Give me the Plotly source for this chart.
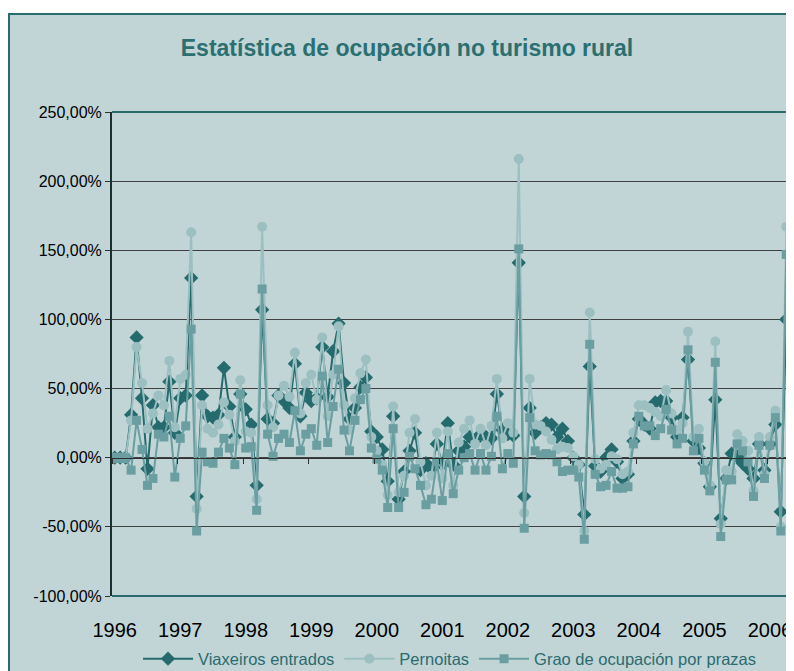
import plotly.graph_objects as go

# ---- data (monthly year-on-year change, %) ----
years = ["1996", "1997", "1998", "1999", "2000", "2001", "2002", "2003", "2004", "2005", "2006"]
months = [f"{y}-{m:02d}" for y in range(1996, 2007) for m in range(1, 13)][:124]

viaxeiros = [0, 0, 0, 31, 87, 43, -8, 38, 22, 22, 55, 18,
             43, 45, 130, -28, 45, 30, 29, 31, 65, 37, 15, 46,
             35, 24, -20, 107, 28, 25, 45, 41, 36, 68, 30, 47,
             41, 43, 80, 44, 77, 97, 54, 28, 36, 51, 58, 19,
             15, 6, -17, 30, -30, -10, 5, 18, -9, -4, -8, 10,
             -5, 25, -5, 5, 8, 15, 12, 17, 15, 14, 46, 20,
             17, 16, 141, -28, 36, 18, 22, 25, 24, 15, 21, 12,
             0, -5, -41, 66, -6, -10, 0, 6, -3, -15, -12, 12,
             28, 24, 21, 40, 41, 41, 29, 15, 29, 71, 12, 7,
             -4, -21, 42, -44, -15, 3, 1, -4, -8, -15, 10, -9,
             10, 24, -39, 100]

pernoitas = [0, 0, 0, 27, 80, 54, 21, 32, 45, 38, 70, 22,
             57, 60, 163, -37, 38, 21, 18, 24, 40, 31, 12, 56,
             19, 18, -30, 167, 38, 22, 45, 52, 44, 76, 32, 54,
             60, 42, 87, 30, 60, 95, 38, 20, 43, 61, 71, 15,
             5, -5, -27, 37, -25, -13, 18, 28, -3, -20, -13, 18,
             -15, 19, -20, 11, 21, 27, 10, 21, 9, 23, 57, 14,
             25, 18, 216, -40, 57, 24, 23, 19, 13, 6, 8, 7,
             1, -5, -53, 105, -1, -8, -5, 1, -1, -12, -10, 18,
             38, 38, 36, 33, 30, 49, 32, 20, 25, 91, 15, 21,
             -3, -20, 84, -48, -9, -10, 17, 12, 5, -24, 15, -12,
             15, 34, -50, 167]

grao = [0, 0, 0, -9, 27, 6, -20, -15, 17, 15, 30, -14,
        14, 23, 93, -53, 4, -3, -4, 4, 14, 7, -5, 46,
        7, 8, -38, 122, 17, 1, 14, 17, 11, 34, 5, 17,
        21, 9, 59, 11, 37, 64, 20, 5, 27, 42, 50, 7,
        -1, -9, -36, 21, -36, -25, 1, -8, -20, -34, -30, -3,
        -31, 3, -26, -9, 0, 3, -9, 3, -9, 1, 30, -8,
        3, -4, 151, -51, 29, 5, 2, 3, 2, -3, -10, -9,
        -9, -14, -59, 82, -12, -21, -20, -10, -22, -22, -21, 10,
        30, 23, 23, 16, 21, 35, 20, 10, 14, 78, 5, 14,
        -9, -24, 69, -57, -16, -16, 10, 5, -3, -28, 9, -15,
        9, 29, -53, 147]

ytick_vals = [-100, -50, 0, 50, 100, 150, 200, 250]
ytick_text = ["-100,00%", "-50,00%", "0,00%", "50,00%", "100,00%", "150,00%", "200,00%", "250,00%"]

# ---- styling ----
C_DARK = "#256b6d"
C_LIGHT = "#9cbfc1"
C_MID = "#6a9ea1"
FRAME = "#2b6b6e"
OUTER_BG = "#c1d5d7"
PLOT_BG = "#d5e3e4"
NARROW = "Liberation Sans Narrow, Arial Narrow, Liberation Sans, Arial, sans-serif"

idx = list(range(len(months)))
year_pos = [months.index(f"{y}-01") for y in years]
n = len(months)

fig = go.Figure()
fig.add_trace(go.Scatter(x=idx, y=viaxeiros, name="Viaxeiros entrados", mode="lines+markers",
                         line=dict(color=C_DARK, width=2),
                         marker=dict(symbol="diamond", size=11, color=C_DARK)))
fig.add_trace(go.Scatter(x=idx, y=pernoitas, name="Pernoitas", mode="lines+markers",
                         line=dict(color=C_LIGHT, width=2),
                         marker=dict(symbol="circle", size=10, color=C_LIGHT)))
fig.add_trace(go.Scatter(x=idx, y=grao, name="Grao de ocupación por prazas", mode="lines+markers",
                         line=dict(color=C_MID, width=2),
                         marker=dict(symbol="square", size=9, color=C_MID)))
# dummy trace so the tick-mark axis on the zero line is drawn
fig.add_trace(go.Scatter(x=[None], y=[None], xaxis="x2", showlegend=False, hoverinfo="skip"))

# figure coordinates (the page adds an 8px body margin)
L, R, T, B = 104, 13, 104, 83
W, H = 794, 671
pw, ph = W - L - R, H - T - B
zero_pos = (0 - (-100)) / 350.0


def px_x(p):
    return (p - L) / pw


def px_y(p):
    return (H - B - p) / ph


fig.update_layout(
    width=W, height=H,
    margin=dict(l=L, r=R, t=T, b=B, autoexpand=False),
    paper_bgcolor="white",
    plot_bgcolor=PLOT_BG,
    title=dict(text="<b>Estatística de ocupación no turismo rural</b>",
               font=dict(family="Liberation Sans, Arial, sans-serif", size=23, color="#2b6f70"),
               x=399 / W, xref="container", xanchor="center",
               y=1 - 40 / H, yref="container", yanchor="middle"),
    xaxis=dict(range=[-0.5, n - 0.5], tickmode="array", tickvals=year_pos, ticktext=years,
               showgrid=False, zeroline=False, showline=False, ticks="", automargin=False,
               tickfont=dict(family=NARROW, size=20, color="black"),
               ticklabelstandoff=20),
    xaxis2=dict(range=[-0.5, n - 0.5], overlaying="x", anchor="free", position=zero_pos,
                tickmode="array", tickvals=[p - 0.5 for p in year_pos] + [n - 0.5],
                ticks="outside", ticklen=5, tickcolor="#303030", showticklabels=False,
                automargin=False,
                showgrid=False, zeroline=False, showline=True, linecolor="#303030", linewidth=1),
    yaxis=dict(range=[-100, 250], tickmode="array", tickvals=ytick_vals, ticktext=ytick_text,
               showgrid=True, gridcolor="#404040", gridwidth=1, zeroline=False,
               showline=True, linecolor="#1a3030", linewidth=2, automargin=False,
               ticks="outside", ticklen=5, tickcolor="#303030",
               tickfont=dict(family=NARROW, size=16, color="black")),
    legend=dict(orientation="h", xref="container", x=442 / W, xanchor="center",
                yref="container", y=1 - 651 / H, yanchor="middle",
                font=dict(family=NARROW, size=16.5, color="#2b6b6e"),
                bgcolor="rgba(0,0,0,0)", itemwidth=50, tracegroupgap=0),
    showlegend=True,
    shapes=[
        dict(type="rect", xref="paper", yref="paper", layer="below",
             x0=px_x(1), x1=px_x(805), y0=px_y(690), y1=px_y(6),
             fillcolor=OUTER_BG, line=dict(color=FRAME, width=2)),
        dict(type="line", xref="paper", yref="paper", x0=0, x1=1, y0=1, y1=1,
             line=dict(color=FRAME, width=2)),
        dict(type="line", xref="paper", yref="paper", x0=1, x1=1, y0=0, y1=1,
             line=dict(color=FRAME, width=2)),
        dict(type="line", xref="paper", yref="paper", x0=0, x1=1, y0=0, y1=0,
             line=dict(color=FRAME, width=2)),
    ],
)

fig.write_html("out.html")
